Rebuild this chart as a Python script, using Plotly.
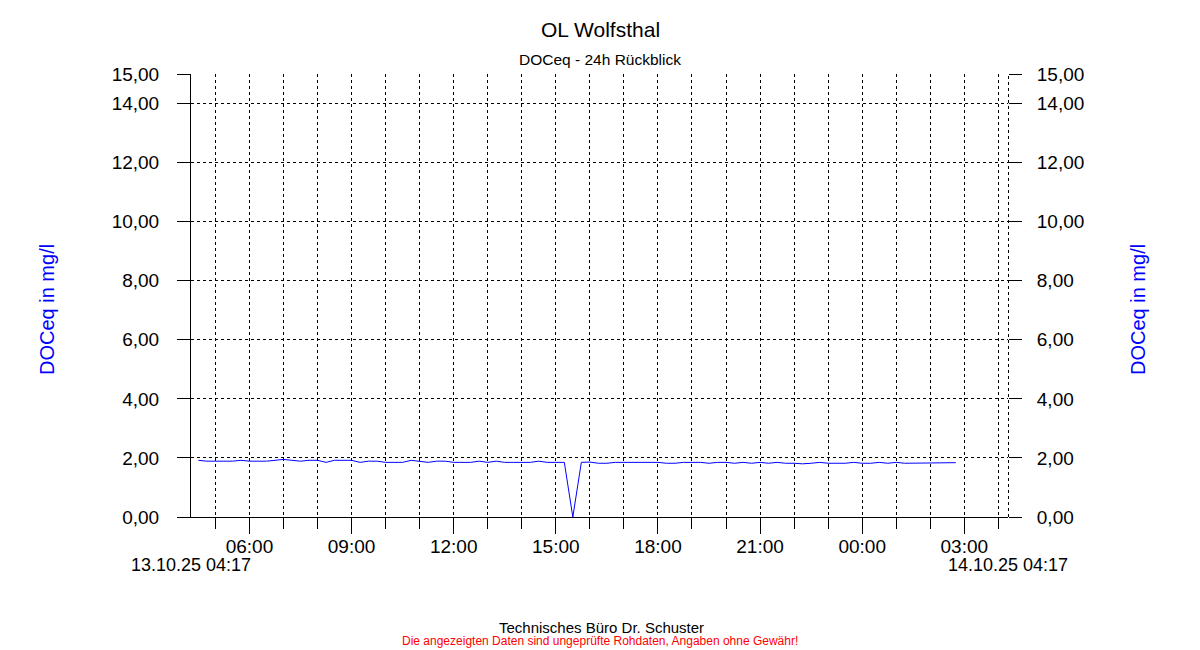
import plotly.graph_objects as go
import pandas as pd

# ---- data ----
start_time = "2025-10-13 04:30"
interval = "15min"
doc_values = [
    1.92, 1.89, 1.89, 1.89, 1.89, 1.92, 1.89, 1.89, 1.89, 1.92,
    1.95, 1.92, 1.89, 1.92, 1.92, 1.85, 1.92, 1.92, 1.92, 1.85,
    1.89, 1.89, 1.85, 1.85, 1.85, 1.92, 1.89, 1.85, 1.89, 1.89,
    1.85, 1.85, 1.85, 1.89, 1.85, 1.89, 1.85, 1.85, 1.85, 1.85,
    1.89, 1.85, 1.85, 1.85, 0.00, 1.85, 1.86, 1.82, 1.82, 1.85,
    1.85, 1.85, 1.85, 1.85, 1.85, 1.82, 1.82, 1.85, 1.85, 1.85,
    1.82, 1.85, 1.85, 1.82, 1.85, 1.82, 1.85, 1.82, 1.85, 1.82,
    1.82, 1.80, 1.82, 1.85, 1.82, 1.82, 1.82, 1.85, 1.82, 1.82,
    1.85, 1.82, 1.85, 1.82, 1.82, 1.82, 1.82, 1.82, 1.82, 1.84,
]
times = pd.date_range(start=start_time, periods=len(doc_values), freq=interval)

x_start = "2025-10-13 04:17"
x_end = "2025-10-14 04:17"
start_label = "13.10.25 04:17"
end_label = "14.10.25 04:17"
y_ticks = [0, 2, 4, 6, 8, 10, 12, 14, 15]
y_ticktext = ["0,00", "2,00", "4,00", "6,00", "8,00", "10,00", "12,00", "14,00", "15,00"]

title = "OL Wolfsthal"
subtitle = "DOCeq - 24h Rückblick"
y_title = "DOCeq in mg/l"
footer1 = "Technisches Büro Dr. Schuster"
footer2 = "Die angezeigten Daten sind ungeprüfte Rohdaten, Angaben ohne Gewähr!"

FONT = "Liberation Sans, Arial, sans-serif"
DASH = "3px,3px"

# page geometry: the html body has an 8px margin, so the figure starts at (8, 8)
OFF = 8
W, H = 1200 - OFF, 650 - OFF
L, R, T, B = 191 - OFF, 192, 74 - OFF, 133
PW, PH = W - L - R, H - T - B


def py(ypix):
    # ypix: page pixel
    return (650 - B - ypix) / PH


def px(xpix):
    return (xpix - 191) / PW


fig = go.Figure()
fig.add_trace(go.Scatter(
    x=times, y=doc_values, mode="lines",
    line=dict(color="#0000ff", width=1), hoverinfo="x+y", showlegend=False,
))
fig.add_trace(go.Scatter(
    x=times, y=doc_values, mode="lines", yaxis="y2",
    line=dict(color="rgba(0,0,0,0)", width=0), hoverinfo="skip", showlegend=False,
))

fig.update_layout(
    width=W, height=H,
    margin=dict(l=L, r=R, t=T, b=B, pad=0),
    paper_bgcolor="white", plot_bgcolor="white",
    font=dict(family=FONT, color="black"),
    separators=",.",
    xaxis=dict(
        type="date", range=[x_start, x_end],
        tick0="2025-10-13 00:00", dtick=3 * 3600000,
        tickformat="%H:%M", ticks="outside", ticklen=16, tickwidth=1, tickcolor="black",
        tickfont=dict(size=19, family=FONT, color="black"),
        ticklabelstandoff=-4,
        showgrid=True, gridcolor="black", gridwidth=1, griddash=DASH,
        showline=True, linecolor="black", linewidth=1,
        zeroline=False,
        minor=dict(dtick=3600000, ticks="outside", ticklen=11, tickcolor="black", tickwidth=1,
                   showgrid=True, gridcolor="black", gridwidth=1, griddash=DASH),
    ),
    yaxis=dict(
        range=[0, 15], tickvals=y_ticks, ticktext=y_ticktext,
        ticks="outside", ticklen=13, tickwidth=1, tickcolor="black",
        tickfont=dict(size=19, family=FONT, color="black"),
        showgrid=True, gridcolor="black", gridwidth=1, griddash=DASH,
        showline=True, linecolor="black", linewidth=1, zeroline=False,
        ticklabelstandoff=14,
    ),
    yaxis2=dict(
        range=[0, 15], tickvals=y_ticks, ticktext=y_ticktext,
        overlaying="y", side="right",
        ticks="outside", ticklen=13, tickwidth=1, tickcolor="black",
        tickfont=dict(size=19, family=FONT, color="black"),
        showgrid=False, showline=False, zeroline=False,
        ticklabelstandoff=11,
    ),
    shapes=[
        dict(type="line", xref="paper", yref="paper",
             x0=1 + 0.5 / PW, x1=1 + 0.5 / PW, y0=0, y1=1,
             line=dict(color="black", width=1, dash=DASH)),
    ],
)

ann = [
    dict(text=title, x=px(600), y=py(30), font=dict(size=21, color="black")),
    dict(text=subtitle, x=px(600), y=py(59), font=dict(size=15.5, color="black")),
    dict(text=footer1, x=px(601), y=py(627), font=dict(size=15, color="black")),
    dict(text=footer2, x=px(600), y=py(641), font=dict(size=12, color="#ff0000")),
    dict(text=y_title, x=px(47), y=py(310), textangle=-90, font=dict(size=20, color="#0000ff")),
    dict(text=y_title, x=px(1138), y=py(310), textangle=-90, font=dict(size=20, color="#0000ff")),
]
for a in ann:
    fig.add_annotation(xref="paper", yref="paper", showarrow=False,
                       xanchor="center", yanchor="middle", **a)

for lbl, xv in [(start_label, x_start), (end_label, x_end)]:
    fig.add_annotation(xref="x", yref="paper", x=xv, y=0, yshift=-48, showarrow=False,
                       xanchor="center", yanchor="middle", text=lbl,
                       font=dict(size=18, color="black", family=FONT))

fig.write_html("out.html")
